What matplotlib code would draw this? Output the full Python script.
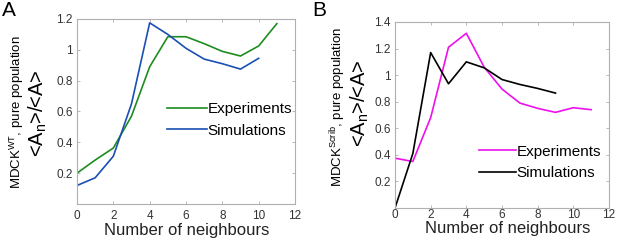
import matplotlib
matplotlib.use('Agg')
import matplotlib.pyplot as plt

plt.rcParams['font.family'] = ['Liberation Sans', 'DejaVu Sans']
plt.rcParams['mathtext.fontset'] = 'custom'
plt.rcParams['mathtext.rm'] = 'Liberation Sans'
plt.rcParams['mathtext.it'] = 'Liberation Sans:italic'

neighbours_exp = list(range(12))
neighbours_sim = list(range(11))
neighbours_sim_b = list(range(10))

wt_exp = [0.20, 0.285, 0.363, 0.57, 0.89, 1.085, 1.085, 1.04, 0.99, 0.96, 1.025, 1.17]
wt_sim = [0.12, 0.17, 0.31, 0.65, 1.175, 1.10, 1.01, 0.94, 0.91, 0.875, 0.945]

scrib_exp = [0.375, 0.35, 0.68, 1.21, 1.315, 1.06, 0.895, 0.79, 0.75, 0.72, 0.755, 0.74]
scrib_sim = [0.0, 0.41, 1.17, 0.935, 1.10, 1.055, 0.967, 0.93, 0.90, 0.865]

xticks = [0, 2, 4, 6, 8, 10, 12]
yticks_a = [0.2, 0.4, 0.6, 0.8, 1.0, 1.2]
yticks_b = [0.2, 0.4, 0.6, 0.8, 1.0, 1.2, 1.4]

grey = '#b0b0b0'
tick_col = '#333333'


def style_axes(ax, ymax, yticks, xpad):
    ax.set_xlim(0, 12)
    ax.set_ylim(0, ymax)
    ax.set_xticks(xticks)
    ax.set_xticklabels([str(t) for t in xticks])
    ax.set_yticks(yticks)
    ax.set_yticklabels(['%g' % t for t in yticks])
    for s in ax.spines.values():
        s.set_color(grey)
        s.set_linewidth(0.8)
    ax.tick_params(direction='in', length=2.5, width=0.6, color=grey,
                   labelcolor=tick_col, labelsize=8.5, top=True, right=True, pad=3)
    ax.tick_params(axis='x', pad=xpad)


fig = plt.figure(figsize=(6.17, 2.40), dpi=100)

ax1 = fig.add_axes([77 / 617, 1 - 204 / 240, 218 / 617, 185 / 240])
ax1.plot(neighbours_exp, wt_exp, color='#1e8c1e', lw=1.2, label='Experiments')
ax1.plot(neighbours_sim, wt_sim, color='#1a4fb4', lw=1.2, label='Simulations')
style_axes(ax1, 1.2, yticks_a, 4)
ax1.legend(frameon=False, fontsize=11, handlelength=2.6, handletextpad=0.05,
           labelspacing=0.5, loc='center left', bbox_to_anchor=(0.35, 0.455))

ax2 = fig.add_axes([395 / 617, 1 - 208 / 240, 214 / 617, 186 / 240])
ax2.plot(neighbours_exp, scrib_exp, color='#ee10ee', lw=1.2, label='Experiments')
ax2.plot(neighbours_sim_b, scrib_sim, color='black', lw=1.2, label='Simulations')
style_axes(ax2, 1.4, yticks_b, 1)
ax2.legend(frameon=False, fontsize=11, handlelength=2.4, handletextpad=0.05,
           labelspacing=0.5, loc='center left', bbox_to_anchor=(0.33, 0.245))

# axis labels
fig.text(187 / 617, 1 - 231 / 240, 'Number of neighbours', fontsize=12,
         ha='center', va='center', color='#222222')
fig.text(508 / 617, 1 - 229 / 240, 'Number of neighbours', fontsize=12,
         ha='center', va='center', color='#222222')

fig.text(17 / 617, 1 - 112 / 240, 'MDCK$^{\\mathrm{WT}}$, pure population', fontsize=9.5,
         rotation=90, ha='center', va='center')
fig.text(38 / 617, 1 - 113 / 240, '<A$_{\\mathrm{n}}$>/<A>', fontsize=14.5,
         rotation=90, ha='center', va='center')
fig.text(338 / 617, 1 - 107 / 240, 'MDCK$^{\\mathrm{Scrib}}$, pure population', fontsize=9.5,
         rotation=90, ha='center', va='center')
fig.text(360 / 617, 1 - 103 / 240, '<A$_{\\mathrm{n}}$>/<A>', fontsize=14.5,
         rotation=90, ha='center', va='center')

fig.text(2 / 617, 1 - 1 / 240, 'A', fontsize=15, ha='left', va='top')
fig.text(312 / 617, 1 - 1 / 240, 'B', fontsize=15, ha='left', va='top')

fig.savefig('out.png', dpi=100)
